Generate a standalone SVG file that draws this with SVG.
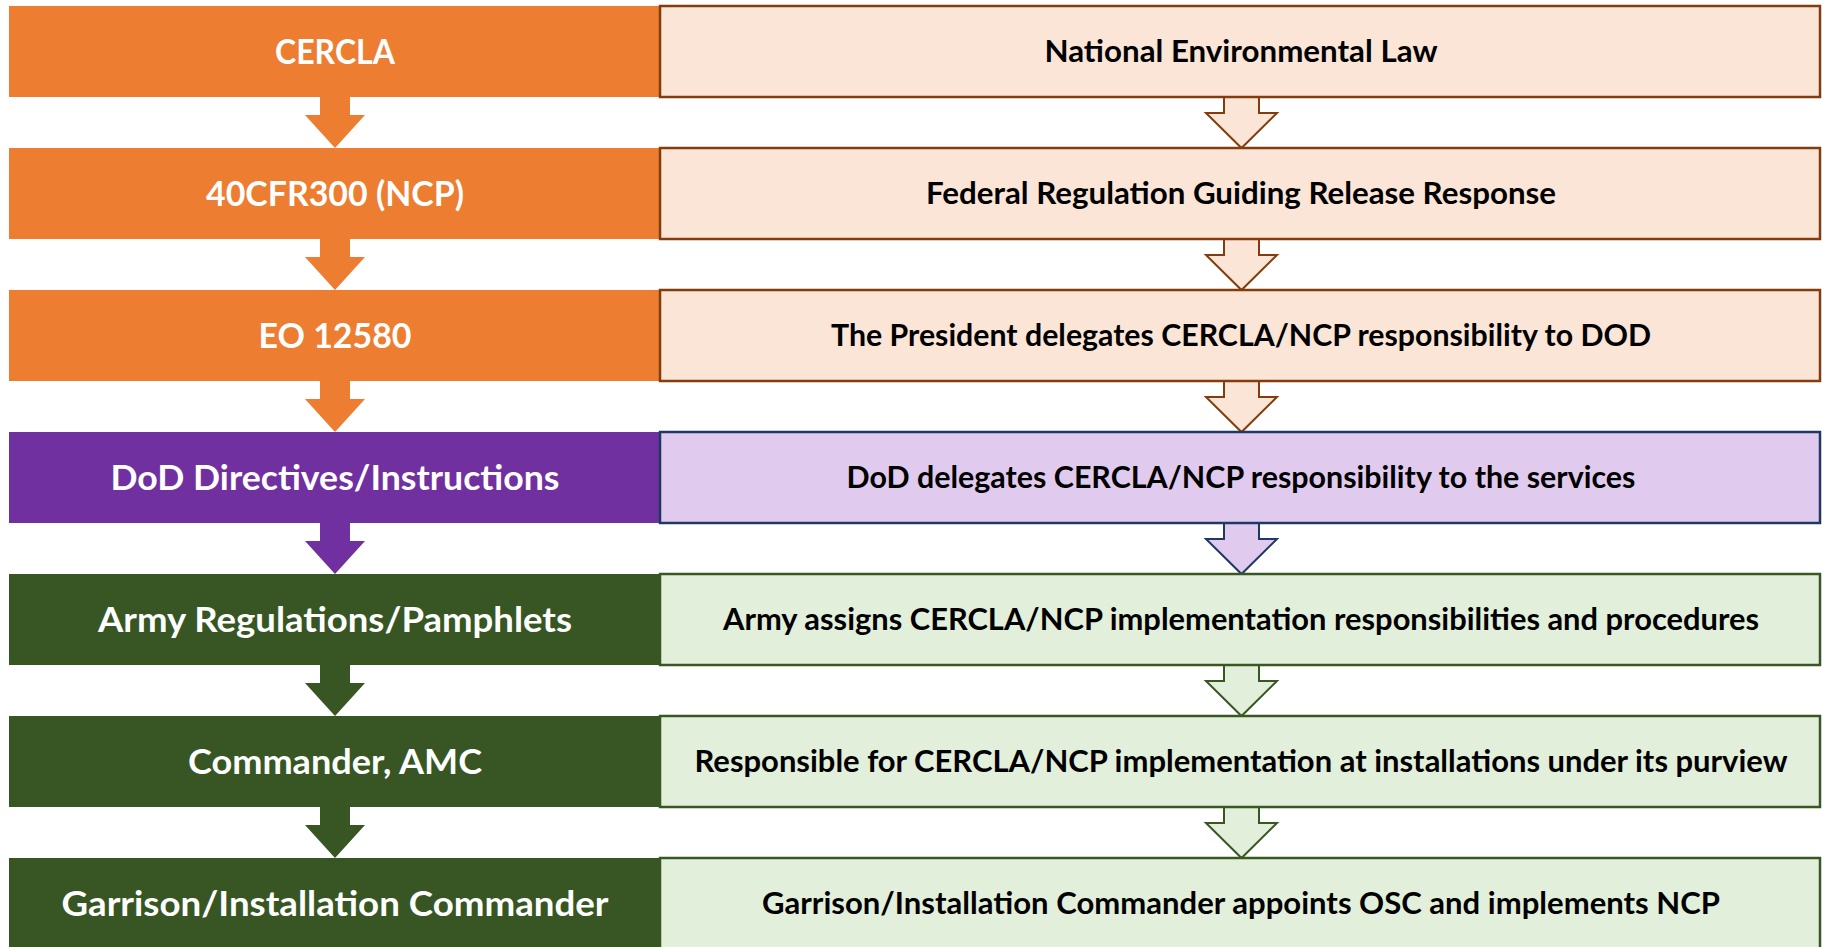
<svg xmlns="http://www.w3.org/2000/svg" width="1822" height="947" viewBox="0 0 1822 947">
<style>
.lt{font-family:Lato,"Open Sans","Liberation Sans",sans-serif;font-weight:700;font-size:33.5px;fill:#FFFFFF;text-anchor:middle}
.rt{font-family:Lato,"Open Sans","Liberation Sans",sans-serif;font-weight:700;font-size:29.5px;fill:#000000;text-anchor:middle}
.o{fill:#ED7D31}.p{fill:#7030A0}.g{fill:#375623}
.ro{fill:#FBE5D6;stroke:#843C0C;stroke-width:2.5}
.rp{fill:#E0CBEE;stroke:#203864;stroke-width:2.5}
.rg{fill:#E2EFDA;stroke:#385723;stroke-width:2.5}
.ao{fill:#FBE5D6;stroke:#843C0C;stroke-width:2}
.ap{fill:#E0CBEE;stroke:#203864;stroke-width:2}
.ag{fill:#E2EFDA;stroke:#385723;stroke-width:2}
</style>
<rect width="1822" height="947" fill="#FFFFFF"/>
<defs>
<path id="la" d="M320,0 V18 H305 L335,51 L365,18 H350 V0 Z"/>
<path id="ra" d="M1224,0 V16 H1206 L1241.5,51 L1277,16 H1259 V0"/>
</defs>
<g id="connectors">
<use href="#la" class="o" transform="translate(0,97)"/>
<use href="#la" class="o" transform="translate(0,239)"/>
<use href="#la" class="o" transform="translate(0,381)"/>
<use href="#la" class="p" transform="translate(0,523)"/>
<use href="#la" class="g" transform="translate(0,665)"/>
<use href="#la" class="g" transform="translate(0,807)"/>
<use href="#ra" class="ao" transform="translate(0,97)"/>
<use href="#ra" class="ao" transform="translate(0,239)"/>
<use href="#ra" class="ao" transform="translate(0,381)"/>
<use href="#ra" class="ap" transform="translate(0,523)"/>
<use href="#ra" class="ag" transform="translate(0,665)"/>
<use href="#ra" class="ag" transform="translate(0,807)"/>
</g>
<g id="n1"><rect class="o" x="9" y="6" width="651" height="91"/><text class="lt" x="335" y="63.5" textLength="120" lengthAdjust="spacingAndGlyphs">CERCLA</text></g>
<g id="n1r"><rect class="ro" x="660" y="6" width="1160" height="91"/><text class="rt" x="1241" y="62" textLength="393" lengthAdjust="spacingAndGlyphs">National Environmental Law</text></g>
<g id="n2"><rect class="o" x="9" y="148" width="651" height="91"/><text class="lt" x="335" y="205.5" textLength="258" lengthAdjust="spacingAndGlyphs">40CFR300 (NCP)</text></g>
<g id="n2r"><rect class="ro" x="660" y="148" width="1160" height="91"/><text class="rt" x="1241" y="204" textLength="630" lengthAdjust="spacingAndGlyphs">Federal Regulation Guiding Release Response</text></g>
<g id="n3"><rect class="o" x="9" y="290" width="651" height="91"/><text class="lt" x="335" y="347.5" textLength="153" lengthAdjust="spacingAndGlyphs">EO 12580</text></g>
<g id="n3r"><rect class="ro" x="660" y="290" width="1160" height="91"/><text class="rt" x="1241" y="346" textLength="820" lengthAdjust="spacingAndGlyphs">The President delegates CERCLA/NCP responsibility to DOD</text></g>
<g id="n4"><rect class="p" x="9" y="432" width="651" height="91"/><text class="lt" x="335" y="489.5" textLength="449" lengthAdjust="spacingAndGlyphs">DoD Directives/Instructions</text></g>
<g id="n4r"><rect class="rp" x="660" y="432" width="1160" height="91"/><text class="rt" x="1241" y="488" textLength="789" lengthAdjust="spacingAndGlyphs">DoD delegates CERCLA/NCP responsibility to the services</text></g>
<g id="n5"><rect class="g" x="9" y="574" width="651" height="91"/><text class="lt" x="335" y="631.5" textLength="474" lengthAdjust="spacingAndGlyphs">Army Regulations/Pamphlets</text></g>
<g id="n5r"><rect class="rg" x="660" y="574" width="1160" height="91"/><text class="rt" x="1241" y="630" textLength="1036" lengthAdjust="spacingAndGlyphs">Army assigns CERCLA/NCP implementation responsibilities and procedures</text></g>
<g id="n6"><rect class="g" x="9" y="716" width="651" height="91"/><text class="lt" x="335" y="773.5" textLength="294" lengthAdjust="spacingAndGlyphs">Commander, AMC</text></g>
<g id="n6r"><rect class="rg" x="660" y="716" width="1160" height="91"/><text class="rt" x="1241" y="772" textLength="1093" lengthAdjust="spacingAndGlyphs">Responsible for CERCLA/NCP implementation at installations under its purview</text></g>
<g id="n7"><rect class="g" x="9" y="858" width="651" height="91"/><text class="lt" x="335" y="915.5" textLength="547" lengthAdjust="spacingAndGlyphs">Garrison/Installation Commander</text></g>
<g id="n7r"><rect class="rg" x="660" y="858" width="1160" height="91"/><text class="rt" x="1241" y="914" textLength="958" lengthAdjust="spacingAndGlyphs">Garrison/Installation Commander appoints OSC and implements NCP</text></g>
</svg>
